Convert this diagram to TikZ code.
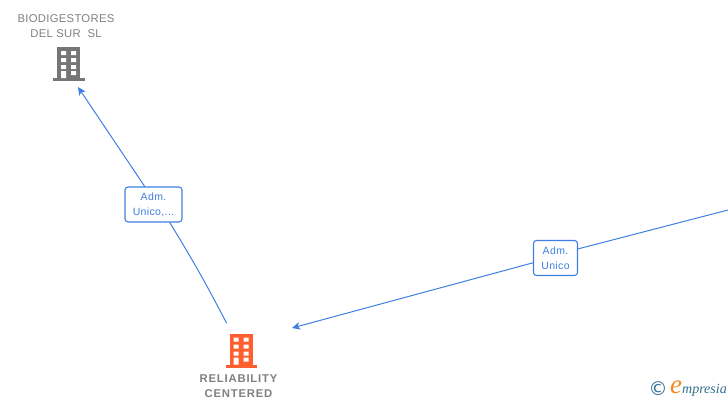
\documentclass[tikz,border=0pt]{standalone}
\usetikzlibrary{arrows.meta}
\usepackage{fontspec}
\setmainfont{Liberation Sans}
\newfontfamily\namefont[LetterSpace=2.5]{Liberation Sans}
\newfontfamily\boldnamefont[LetterSpace=7]{Liberation Sans Bold}
\newfontfamily\rolefont[LetterSpace=3.5]{Liberation Sans}
\newfontfamily\logofont{Liberation Serif}
\newfontfamily\symfont{DejaVu Sans}
\definecolor{edgeblue}{HTML}{3F7FE0}
\definecolor{namegray}{HTML}{808080}
\definecolor{buildgray}{HTML}{767676}
\definecolor{buildorange}{HTML}{FF5F2E}
\definecolor{logoteal}{HTML}{2F6F8F}
\definecolor{logoorange}{HTML}{F08A1E}
\tikzset{
	edge/.style={edgeblue, line width=1pt},
	rolebox/.style={draw=edgeblue, line width=1.1pt, fill=white, rounded corners=3pt, align=center, inner sep=0pt, text=edgeblue, font=\rolefont\fontsize{10.5}{15}\selectfont},
	firmname/.style={text=namegray, align=center, inner sep=0pt, font=\fontsize{11.3}{15}\selectfont}
}
\begin{document}
\begin{tikzpicture}[x=1pt, y=-1pt, line join=round, line cap=round, >={Stealth[length=8pt,width=7.5pt,inset=2pt]}]
	\useasboundingbox (0,0) rectangle (728,400);
		\coordinate (biodig) at (68.5,64);
		\coordinate (reliab) at (241,350.5);
		\coordinate (biodigtip) at (78,87);
		\coordinate (reliabfoot) at (226.5,323);
		\coordinate (reliabtip) at (292,328);
		\coordinate (rightfree) at (728,210);
	\foreach \p/\c in {biodig/buildgray,reliab/buildorange} {\begin{scope}[shift={(\p)}]
		\fill[\c] (-11.5,-17) rectangle (11.5,14);
		\fill[\c] (-15.5,14) rectangle (16,17);
		\foreach \g in {-13,-6,1} \fill[white] (-7.5,\g) rectangle +(5,4) (2.5,\g) rectangle +(5,4);
		\fill[white] (-7.5,7) rectangle +(5,7) (2.5,7) rectangle +(5,4);
	\end{scope}}
	\node[firmname] (biodigname) at (66,26) {\namefont BIODIGESTORES\\\namefont DEL SUR\ \ SL};
	\node[firmname] (reliabname) at (238.5,386.5) {\boldnamefont RELIABILITY\\\boldnamefont CENTERED};
	\node[rolebox, minimum width=57pt, minimum height=35pt] (admone) at (153.5,204.5) {Adm.\\Unico,...};
	\node[rolebox, minimum width=44pt, minimum height=35pt] (admtwo) at (555.5,258) {Adm.\\Unico};
		\draw[edge,->] (admone.116)--(biodigtip);
		\draw[edge] (reliabfoot) to[bend right=2] (admone.-48);
		\draw[edge] (rightfree)--(admtwo.22);
		\draw[edge,->] (admtwo.192)--(reliabtip);
	\node[text=logoteal, inner sep=0pt, font=\symfont\fontsize{19}{19}\selectfont] (logomark) at (658,389) {©};
	\node[text=logoteal, inner sep=0pt, anchor=west, font=\logofont\itshape\fontsize{14}{14}\selectfont] (logoname) at (670,389) {{\color{logoorange}\fontsize{27}{27}\selectfont e}mpresia};
\end{tikzpicture}
\end{document}
